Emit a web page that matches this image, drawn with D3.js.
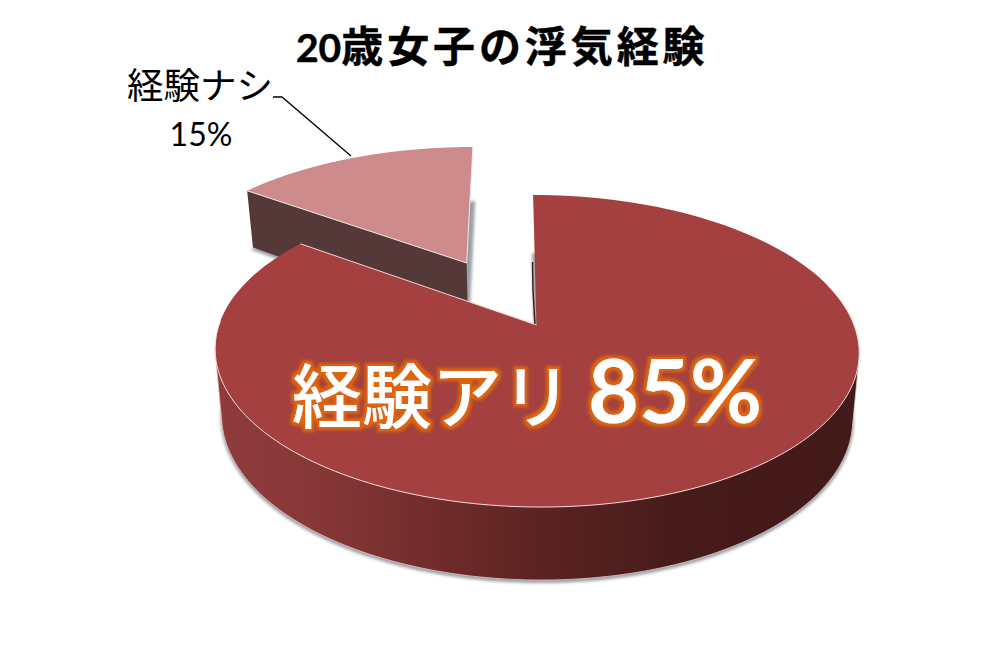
<!DOCTYPE html>
<html lang="ja"><head><meta charset="utf-8">
<script src="https://cdn.jsdelivr.net/npm/d3@7"></script>
<style>html,body{margin:0;background:#fff}svg{display:block}</style></head>
<body><svg id="c" width="1000" height="667"></svg>
<script>
const categories = ["経験アリ", "経験ナシ"];
const values = [85, 15];
const valueLabels = ["85%", "15%"];
const titleNumber = "20";
const titleText = "歳女子の浮気経験";
const sliceColors = ["#a44140", "#cd8c8b"];
const sideColor = "#553939";

const svg = d3.select("#c");
const defs = svg.append("defs");

// Perspective projection of the pie plane on to the screen
const k = 1 / 6, X0 = 536.5;
const sx = d3.scaleLinear().domain([0, 1]).range([X0, X0 + 317.5]);
const sy = d3.scaleLinear().domain([0, 1]).range([325, 325 - 151.7]);
const top3d = (u, v) => { const w = 1 + k * v; return [sx(u / w) - 4 * v / w, sy(v / w)]; };
const bot3d = (u, v) => { const p = top3d(u, v);
  return [X0 + (p[0] - X0) * 0.98, p[1] + 65 - 8 * v]; };

const arcs = d3.pie().sort(null)(values);
const explode = [{u: 0, v: 0, r: 1}, {u: -0.2307, v: 0.4386, r: 1.02}];
const line = d3.line();
const rimPts = (i, a0, a1, proj) => {
  const e = explode[i], n = 160;
  return d3.range(n + 1).map(j => {
    const t = a0 + (a1 - a0) * j / n;
    return proj(e.u + e.r * Math.sin(t), e.v + e.r * Math.cos(t));
  });
};
const wedge = (i, proj) => {
  const e = explode[i];
  return line([proj(e.u, e.v), ...rimPts(i, arcs[i].startAngle, arcs[i].endAngle, proj)]) + "Z";
};

// Side gradient
const grad = defs.append("linearGradient").attr("id", "side")
  .attr("gradientUnits", "userSpaceOnUse").attr("x1", 215).attr("x2", 860).attr("y1", 0).attr("y2", 0);
[[0, "#8f3c3b"], [0.15, "#873837"], [0.3, "#762e2d"], [0.5, "#5c2322"], [0.72, "#461b1a"], [1, "#421a19"]]
  .forEach(s => grad.append("stop").attr("offset", s[0]).attr("stop-color", s[1]));

defs.append("filter").attr("id", "soft").attr("x", "-10%").attr("y", "-10%").attr("width", "120%").attr("height", "120%")
  .append("feGaussianBlur").attr("stdDeviation", 1.6);

const glow = defs.append("filter").attr("id", "glow").attr("x", "-10%").attr("y", "-20%").attr("width", "120%").attr("height", "140%");
glow.append("feMorphology").attr("in", "SourceAlpha").attr("operator", "dilate").attr("radius", 2.6).attr("result", "d");
glow.append("feGaussianBlur").attr("in", "d").attr("stdDeviation", 1.8).attr("result", "b");
glow.append("feFlood").attr("flood-color", "#dd660c").attr("result", "f");
glow.append("feComposite").attr("in", "f").attr("in2", "b").attr("operator", "in").attr("result", "o");
glow.append("feGaussianBlur").attr("in", "SourceGraphic").attr("stdDeviation", 0.6).attr("result", "t");
const gm = glow.append("feMerge");
gm.append("feMergeNode").attr("in", "o");
gm.append("feMergeNode").attr("in", "t");

// Soft shadows from the lower plane of each slice
const shadowPlane = (u, v) => { const p = bot3d(u, v); return [p[0], p[1] + 2]; };
[1, 0].forEach(i => svg.append("path").attr("d", wedge(i, shadowPlane))
  .attr("fill", "#9aa0a6").attr("stroke", "#9aa0a6").attr("stroke-width", 2).attr("filter", "url(#soft)"));

// Small slice
(function () {
  const e = explode[1];
  const left = rimPts(1, arcs[1].startAngle, arcs[1].startAngle, top3d)[0];
  const leftB = rimPts(1, arcs[1].startAngle, arcs[1].startAngle, bot3d)[0];
  svg.append("path").attr("d", line([left, top3d(e.u, e.v), bot3d(e.u, e.v), leftB]) + "Z").attr("fill", sideColor);
  svg.append("path").attr("d", wedge(1, top3d)).attr("fill", sliceColors[1]);
  svg.append("path").attr("d", line([left, top3d(e.u, e.v), rimPts(1, arcs[1].endAngle, arcs[1].endAngle, top3d)[0]]))
    .attr("fill", "none").attr("stroke", "#f3e3e2").attr("stroke-width", 1);
})();

// Main slice: the side is the hull of the lower half of both rims
const a = 98 * Math.PI / 180, b = 262 * Math.PI / 180;
const hull = d3.polygonHull([...rimPts(0, a, b, top3d), ...rimPts(0, a, b, bot3d)]);
svg.append("path").attr("d", line(hull) + "Z").attr("fill", "url(#side)").attr("stroke", "#e6c6c4").attr("stroke-width", 0.8);
svg.append("path").attr("d", line([[532.5, 262], [533, 290], [535, 326]])).attr("fill", "none").attr("stroke", "#3f1c1b").attr("stroke-width", 1.5);
svg.append("path").attr("d", wedge(0, top3d)).attr("fill", sliceColors[0]);
svg.append("path").attr("d", line(rimPts(0, 1.3, arcs[0].endAngle - 0.6, top3d))).attr("fill", "none").attr("stroke", "#f5dedd").attr("stroke-width", 1);
const mainEnd = rimPts(0, arcs[0].endAngle, arcs[0].endAngle, top3d)[0];
svg.append("path").attr("d", line([mainEnd, top3d(0, 0)])).attr("fill", "none").attr("stroke", "#f0d5d3").attr("stroke-width", 1);

// Leader
svg.append("path").attr("d", line([[273, 97], [282, 97], [351, 156]])).attr("fill", "none").attr("stroke", "#000").attr("stroke-width", 1.3);

// Text
const jp = "'Noto Sans CJK JP','Noto Sans',sans-serif";
const tt = svg.append("text").attr("x", 296).attr("y", 62).attr("fill", "#000").attr("stroke", "#000").attr("stroke-width", 0.5).attr("font-weight", 700);
tt.append("tspan").attr("font-family", "Lato").attr("font-size", 39).text(titleNumber);
tt.append("tspan").attr("font-family", jp).attr("font-size", 42).attr("letter-spacing", 3.9).text(titleText);

svg.append("text").attr("x", 200).attr("y", 99).attr("text-anchor", "middle").attr("font-family", jp).attr("font-size", 36.5).attr("fill", "#000").text(categories[1]);
svg.append("text").attr("x", 201).attr("y", 146).attr("text-anchor", "middle").attr("font-family", "Lato").attr("font-size", 32).attr("fill", "#000").text(valueLabels[1]);

const big = svg.append("g").attr("filter", "url(#glow)").attr("fill", "#fff");
big.append("text").attr("x", 292).attr("y", 423).attr("font-family", jp).attr("font-size", 70).attr("font-weight", 500).text(categories[0]);
big.append("text").attr("x", 588).attr("y", 423).attr("font-family", "Lato").attr("font-size", 88).attr("font-weight", 700).text(valueLabels[0]);
</script></body></html>
